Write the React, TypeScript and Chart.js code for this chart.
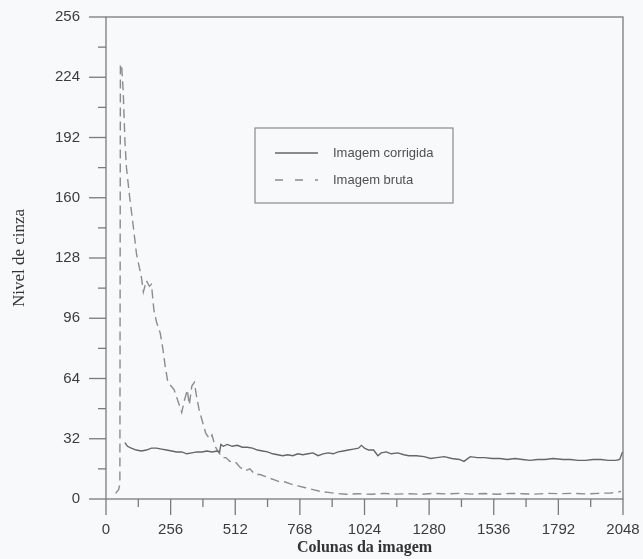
import React, { useEffect, useRef } from "react";
import { Chart, registerables } from "chart.js";

Chart.register(...registerables);

const seriesLabels = ["Imagem corrigida", "Imagem bruta"];

const corrigidaX = [75, 85, 100, 120, 140, 160, 180, 200, 220, 240, 260, 280, 300, 320, 340, 360, 380, 400, 420, 440, 450, 455, 465, 480, 500, 520, 540, 560, 580, 600, 620, 640, 660, 680, 700, 720, 740, 760, 780, 800, 820, 840, 860, 880, 900, 920, 940, 960, 980, 1000, 1012, 1024, 1040, 1060, 1077, 1090, 1110, 1130, 1156, 1180, 1200, 1230, 1260, 1286, 1310, 1340, 1370, 1400, 1418, 1443, 1470, 1500, 1530, 1560, 1590, 1620, 1650, 1679, 1710, 1740, 1770, 1811, 1840, 1870, 1900, 1930, 1960, 1990, 2020, 2035, 2046];
const corrigidaY = [30, 28, 27, 26, 25.5, 26, 27, 27, 26.5, 26, 25.5, 25, 25, 24, 24.5, 25, 25, 25.5, 25, 25.5, 25, 29, 28, 29, 28, 28.5, 27.5, 27.5, 27, 26, 25.5, 25, 24, 23.5, 23, 23.5, 23, 24, 23.5, 24, 24.5, 23, 24, 24.5, 24, 25, 25.5, 26, 26.5, 27, 28.5, 27, 26, 26, 23, 24.5, 25, 24, 24.5, 23.5, 23, 23, 22.5, 21.5, 22, 22.5, 21.5, 21, 20, 22.5, 22, 22, 21.5, 21.5, 21, 21.5, 21, 20.5, 21, 21, 21.5, 21, 21, 20.5, 20.5, 21, 21, 20.5, 20.5, 21, 25];

const brutaX = [38, 50, 55, 57, 62, 68, 75, 81, 94, 107, 121, 140, 148, 160, 172, 180, 190, 200, 215, 225, 235, 245, 258, 270, 285, 300, 310, 322, 330, 340, 350, 358, 368, 380, 395, 410, 420, 432, 445, 460, 475, 490, 510, 530, 550, 570, 590, 610, 630, 650, 670, 690, 710, 730, 760, 790, 820, 850, 880, 910, 950, 1000, 1050, 1100, 1150, 1200, 1250, 1300, 1350, 1400, 1450, 1500, 1550, 1600, 1650, 1700, 1750, 1800, 1850, 1900, 1950, 2000, 2040];
const brutaY = [3, 5, 8, 231, 230, 217, 190, 176, 160, 146, 130, 118, 110, 116, 113, 114, 100, 94, 88, 80, 70, 62, 60, 58, 52, 46, 52, 58, 50, 60, 62, 55, 48, 42, 35, 32, 34, 28, 25, 22, 22, 20, 20, 17, 15, 16, 13, 13, 12, 11, 10, 9, 9, 8, 7, 6, 5, 4, 3.5, 3, 2.5, 2.8, 2.5, 3, 2.6, 2.8, 2.5, 3, 2.7, 3, 2.6, 2.9, 2.5, 3, 2.8, 2.6, 3, 2.8, 3, 2.7, 3, 3.2, 4];

const xTicks = [0, 256, 512, 768, 1024, 1280, 1536, 1792, 2048];
const yTicks = [0, 32, 64, 96, 128, 160, 192, 224, 256];

const AXIS = "#7a7a7a";
const SOLID = "#666666";
const DASHED = "#8c8c8c";
const DASH = [9, 5];

const framePlugin = {
  id: "frame",
  beforeDraw(chart: any) {
    const ctx = chart.ctx;
    ctx.save();
    ctx.fillStyle = "#f8f9fb";
    ctx.fillRect(0, 0, chart.width, chart.height);
    ctx.restore();
  },
  afterDraw(chart: any) {
    const ctx = chart.ctx;
    const a = chart.chartArea;
    const xs = chart.scales.x;
    const ys = chart.scales.y;
    ctx.save();
    ctx.strokeStyle = AXIS;
    ctx.lineWidth = 1.3;
    ctx.setLineDash([]);
    ctx.strokeRect(a.left, a.top, a.right - a.left, a.bottom - a.top);
    for (let v = 0; v <= 256; v += 16) {
      const p = ys.getPixelForValue(v);
      const len = v % 32 === 0 ? 17 : 8;
      ctx.beginPath();
      ctx.moveTo(a.left - len, p);
      ctx.lineTo(a.left, p);
      ctx.stroke();
    }
    for (let v = 0; v <= 2048; v += 128) {
      const p = xs.getPixelForValue(v);
      const len = v % 256 === 0 ? 16 : 8;
      ctx.beginPath();
      ctx.moveTo(p, a.bottom);
      ctx.lineTo(p, a.bottom + len);
      ctx.stroke();
    }
    // legend
    const bx = a.left + 149;
    const by = a.top + 111;
    const bw = 198;
    const bh = 75;
    ctx.lineWidth = 1.2;
    ctx.strokeStyle = "#8a8a8a";
    ctx.strokeRect(bx, by, bw, bh);
    ctx.font = "13px 'Liberation Sans', Arial, sans-serif";
    ctx.textBaseline = "middle";
    ctx.fillStyle = "#505050";
    chart.data.datasets.forEach((ds: any, i: number) => {
      const y = by + 25 + i * 27;
      ctx.beginPath();
      ctx.strokeStyle = ds.borderColor;
      ctx.lineWidth = ds.borderWidth;
      ctx.setLineDash(i === 1 ? [8, 12] : []);
      ctx.moveTo(bx + 20, y);
      ctx.lineTo(bx + 63, y);
      ctx.stroke();
      ctx.setLineDash([]);
      ctx.fillText(ds.label, bx + 78, y);
    });
    ctx.restore();
  },
};

export default function App() {
  const ref = useRef<HTMLCanvasElement>(null);
  useEffect(() => {
    if (!ref.current) return;
    const chart = new Chart(ref.current, {
      type: "line",
      data: {
        datasets: [
          {
            label: seriesLabels[0],
            data: corrigidaX.map((x, i) => ({ x, y: corrigidaY[i] })),
            borderColor: SOLID,
            borderWidth: 1.4,
            pointRadius: 0,
            tension: 0,
            fill: false,
          },
          {
            label: seriesLabels[1],
            data: brutaX.map((x, i) => ({ x, y: brutaY[i] })),
            borderColor: DASHED,
            borderWidth: 1.4,
            borderDash: DASH,
            pointRadius: 0,
            tension: 0,
            fill: false,
          },
        ],
      },
      options: {
        responsive: false,
        animation: false,
        layout: { padding: { top: 17, right: 20, left: 0, bottom: 0 } },
        plugins: { legend: { display: false }, tooltip: { enabled: false } },
        scales: {
          x: {
            type: "linear",
            min: 0,
            max: 2048,
            afterBuildTicks: (s: any) => {
              s.ticks = xTicks.map((v) => ({ value: v }));
            },
            afterFit: (s: any) => {
              s.height = 60;
              s.paddingLeft = 0;
              s.paddingRight = 0;
            },
            grid: { display: false, drawTicks: false },
            border: { display: false },
            ticks: {
              padding: 22,
              color: "#3c3c3c",
              font: { family: "'Liberation Sans', Arial, sans-serif", size: 15 },
              maxRotation: 0,
              autoSkip: false,
              callback: (v: any) => String(v),
            },
            title: {
              display: true,
              text: "Colunas da imagem",
              color: "#333",
              font: { family: "'Liberation Serif', 'DejaVu Serif', serif", size: 16, weight: "bold" },
              padding: { top: 0, bottom: 2 },
            },
          },
          y: {
            type: "linear",
            min: 0,
            max: 256,
            afterBuildTicks: (s: any) => {
              s.ticks = yTicks.map((v) => ({ value: v }));
            },
            afterFit: (s: any) => {
              s.width = 106;
              s.paddingTop = 0;
              s.paddingBottom = 0;
            },
            grid: { display: false, drawTicks: false },
            border: { display: false },
            ticks: {
              padding: 26,
              color: "#3c3c3c",
              font: { family: "'Liberation Sans', Arial, sans-serif", size: 15 },
              autoSkip: false,
              callback: (v: any) => String(v),
            },
            title: {
              display: true,
              text: "Nivel de cinza",
              color: "#333",
              font: { family: "'Liberation Serif', 'DejaVu Serif', serif", size: 17 },
              padding: { top: 9, bottom: 0 },
            },
          },
        },
      },
      plugins: [framePlugin],
    });
    return () => chart.destroy();
  }, []);
  return (
    <div style={{ position: "fixed", left: 0, top: 0, width: 643, height: 559 }}>
      <canvas ref={ref} width={643} height={559} />
    </div>
  );
}
